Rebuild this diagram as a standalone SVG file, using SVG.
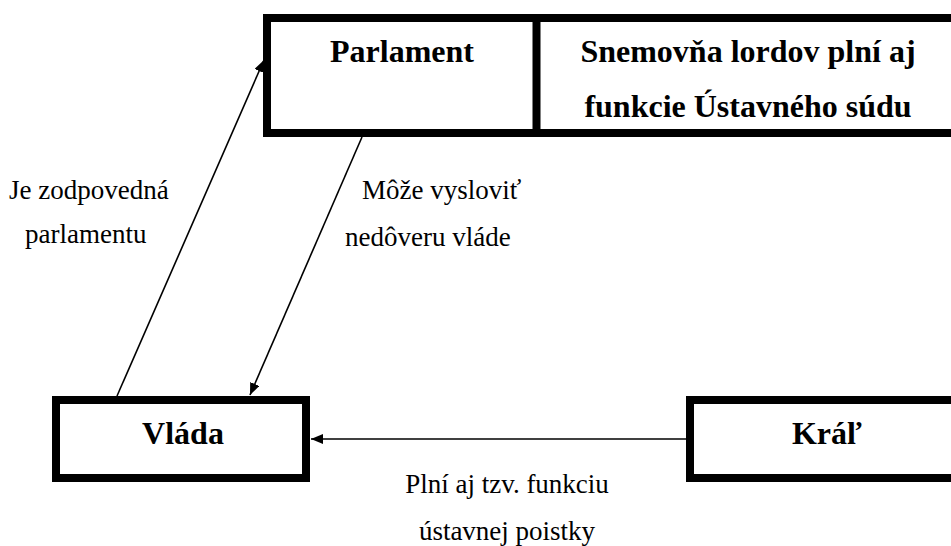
<svg xmlns="http://www.w3.org/2000/svg" width="951" height="546" viewBox="0 0 951 546">
<style>
.box{fill:#fff;stroke:#000;stroke-width:8}
.t{font-family:"Liberation Serif","Times New Roman",serif;font-weight:bold;font-size:32px;fill:#000;text-anchor:middle}
.l{font-family:"Liberation Serif","Times New Roman",serif;font-size:27px;fill:#000}
.c{stroke:#000;stroke-width:1.6;fill:none;marker-end:url(#ah)}
</style>
<defs>
<marker id="ah" viewBox="0 0 12 10" refX="12" refY="5" markerWidth="12" markerHeight="10" markerUnits="userSpaceOnUse" orient="auto">
<path d="M0,0 L12,5 L0,10 z" fill="#000"/>
</marker>
</defs>
<rect width="951" height="546" fill="#fff"/>
<g id="connectors">
<line class="c" x1="117" y1="396" x2="264" y2="60"/>
<line class="c" x1="362" y1="137" x2="250" y2="395"/>
<line class="c" x1="686" y1="439" x2="311" y2="439"/>
</g>
<g id="parlament">
<rect class="box" x="267" y="18" width="700" height="115"/>
<line x1="536.5" y1="18" x2="536.5" y2="133" stroke="#000" stroke-width="8"/>
<text class="t" x="402" y="62">Parlament</text>
</g>
<g id="snemovna">
<text class="t" x="748" y="62">Snemovňa lordov plní aj</text>
<text class="t" x="748" y="117">funkcie Ústavného súdu</text>
</g>
<g id="vlada">
<rect class="box" x="56" y="400" width="250" height="78"/>
<text class="t" x="183" y="444">Vláda</text>
</g>
<g id="kral">
<rect class="box" x="690" y="400" width="300" height="78"/>
<text class="t" x="827" y="444">Kráľ</text>
</g>
<g id="labels">
<text class="l" x="9" y="199">Je zodpovedná</text>
<text class="l" x="25" y="243">parlamentu</text>
<text class="l" x="362" y="199">Môže vysloviť</text>
<text class="l" x="345" y="246">nedôveru vláde</text>
<text class="l" x="507" y="493" text-anchor="middle">Plní aj tzv. funkciu</text>
<text class="l" x="507" y="540" text-anchor="middle">ústavnej poistky</text>
</g>
</svg>
